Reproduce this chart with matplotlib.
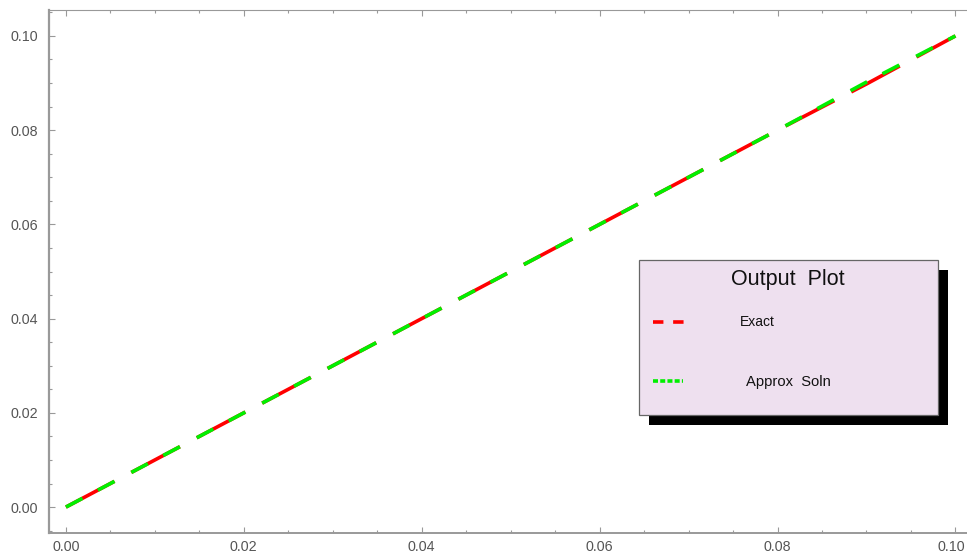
import matplotlib
matplotlib.use("Agg")
import matplotlib.pyplot as plt
from matplotlib.patches import Rectangle
from matplotlib.lines import Line2D
from matplotlib.ticker import MultipleLocator
from matplotlib.transforms import ScaledTranslation

# data
x_vals = [0.0, 0.01, 0.02, 0.03, 0.04, 0.05, 0.06, 0.07, 0.08, 0.09, 0.1]
exact_vals = [0.0, 0.01, 0.02, 0.03, 0.04, 0.05, 0.06, 0.07, 0.08, 0.0898, 0.1]
approx_vals = [0.0, 0.01, 0.02, 0.03, 0.04, 0.05, 0.06, 0.07, 0.08, 0.0902, 0.1]
series_labels = ["Exact", "Approx  Soln"]
legend_title = "Output  Plot"
x_ticks = [0.0, 0.02, 0.04, 0.06, 0.08, 0.10]
y_ticks = [0.0, 0.02, 0.04, 0.06, 0.08, 0.10]

plt.rcParams['font.family'] = ['Liberation Sans', 'DejaVu Sans']
plt.rcParams['lines.scale_dashes'] = False

W, H = 967, 555
fig = plt.figure(figsize=(W / 100, H / 100), dpi=100)
ax = fig.add_axes([49 / W, (H - 533) / H, (967 - 49) / W, (533 - 10) / H])

red = '#ff0000'
green = '#00f000'
ax.plot(x_vals, exact_vals, color=red, lw=2.6, dashes=(39.6, 13.7),
        dash_capstyle='butt', zorder=3)
ax.plot(x_vals, approx_vals, color=green, lw=2.6, dashes=(13.5, 12.5, 13.6, 13.7),
        dash_capstyle='butt', zorder=4)

ax.set_xlim(-0.0019, 0.1013)
ax.set_ylim(-0.0055, 0.1055)
ax.set_xticks(x_ticks)
ax.set_yticks(y_ticks)
ax.set_xticklabels([f"{v:.2f}" for v in x_ticks])
ax.set_yticklabels([f"{v:.2f}" for v in y_ticks])
ax.xaxis.set_minor_locator(MultipleLocator(0.005))
ax.yaxis.set_minor_locator(MultipleLocator(0.005))

gray = '#999999'
ax.tick_params(which='both', direction='in', colors=gray, labelcolor='#555555',
               labelsize=10.3, top=True, right=False)
ax.tick_params(which='major', length=4, width=0.8)
ax.tick_params(which='minor', length=2, width=0.8)
ax.tick_params(axis='x', pad=5)
ax.tick_params(axis='y', pad=8)
for s in ['left', 'bottom', 'top', 'right']:
    ax.spines[s].set_color(gray)
ax.spines['left'].set_linewidth(1.6)
ax.spines['bottom'].set_linewidth(1.4)
ax.spines['top'].set_linewidth(0.8)
ax.spines['right'].set_visible(False)

fig.canvas.draw()
last = ax.get_xticklabels()[-1]
last.set_transform(last.get_transform() + ScaledTranslation(-4 / 100, 0, fig.dpi_scale_trans))

# legend box (drawn in figure pixel coords)
def fx(px):
    return px / W

def fy(py):
    return (H - py) / H

bx0, by0, bx1, by1 = 639, 260, 938, 415
shadow = Rectangle((fx(bx0 + 10), fy(by1 + 10)), fx(bx1 - bx0), (by1 - by0) / H,
                   transform=fig.transFigure, facecolor='black', edgecolor='none', zorder=10)
box = Rectangle((fx(bx0), fy(by1)), fx(bx1 - bx0), (by1 - by0) / H,
                transform=fig.transFigure, facecolor='#eee0ef', edgecolor='#666666',
                lw=0.9, zorder=11)
fig.patches.extend([shadow, box])

fig.text(fx(788), fy(280), legend_title, ha='center', va='center', fontsize=15.5,
         color='#111111', zorder=12)
fig.lines.append(Line2D([fx(653), fx(684)], [fy(322), fy(322)], transform=fig.transFigure,
                        color=red, lw=2.6, dashes=(7.5, 7.0), zorder=12))
fig.lines.append(Line2D([fx(653), fx(683)], [fy(381), fy(381)], transform=fig.transFigure,
                        color=green, lw=2.6, dashes=(3.6, 1.6), zorder=12))
fig.text(fx(740), fy(322), series_labels[0], ha='left', va='center', fontsize=10,
         color='#111111', zorder=12)
fig.text(fx(746), fy(382), series_labels[1], ha='left', va='center', fontsize=10.6,
         color='#111111', zorder=12)

fig.savefig("out.png", dpi=100)
